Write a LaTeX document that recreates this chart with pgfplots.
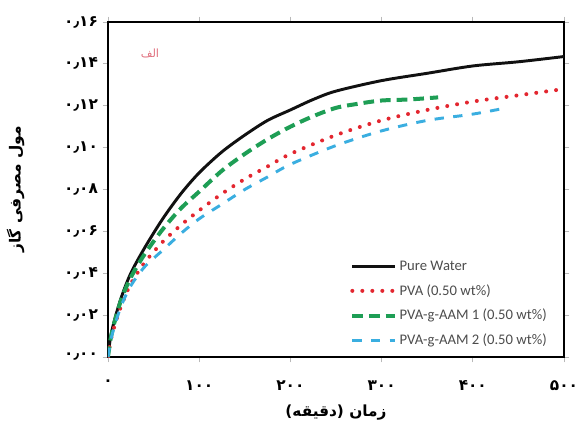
\documentclass[border=0pt]{standalone}
\usepackage{pgfplots}
\pgfplotsset{compat=1.18}
\usepackage{fontspec}
\setmainfont{Liberation Sans}
\newfontfamily\fa[Script=Arabic]{DejaVu Sans}
\newfontfamily\legfont{Carlito}
\TeXXeTstate=1

\definecolor{cwater}{HTML}{111111}
\definecolor{cpva}{HTML}{E3262F}
\definecolor{caam1}{HTML}{1E9E55}
\definecolor{caam2}{HTML}{3AAEE0}
\definecolor{ctag}{HTML}{E0707E}

\begin{document}
\begin{tikzpicture}[x=1pt,y=1pt]
\path[use as bounding box] (-81,-51) rectangle (354.75,267.75);
\begin{axis}[
  scale only axis, width=342pt, height=251.25pt,
  at={(0,0)}, anchor=south west,
  xmin=0, xmax=500, ymin=0, ymax=0.16,
  axis line style={line width=1.8pt},
  tick align=outside,
  tick style={gray!55, line width=0.6pt},
  major tick length=4pt,
  xtick={0,100,200,300,400,500},
  ytick={0,0.02,0.04,0.06,0.08,0.10,0.12,0.14,0.16},
  xticklabels={۰,۱۰۰,۲۰۰,۳۰۰,۴۰۰,۵۰۰},
  yticklabels={۰٫۰۰,۰٫۰۲,۰٫۰۴,۰٫۰۶,۰٫۰۸,۰٫۱۰,۰٫۱۲,۰٫۱۴,۰٫۱۶},
  ticklabel style={font=\fa\bfseries\fontsize{11.5}{13}\selectfont},
  xticklabel shift=10pt,
  xlabel={\fa\bfseries\fontsize{11.5}{13}\selectfont\beginR زمان (دقیقه)\endR},
  ylabel={\fa\bfseries\fontsize{11.5}{13}\selectfont\beginR مول مصرفی گاز\endR},
  xlabel shift=4pt,
  ylabel shift=23pt,
  legend style={draw=none, fill=none, at={(0.525,0.303)}, anchor=north west,
    font=\legfont\fontsize{11}{12}\selectfont, text=black!70, row sep=5pt,
    inner sep=2pt},
  legend cell align=left,
  legend image code/.code={\draw[#1] (0pt,0pt) -- (32pt,0pt);},
]
% Pure water
\addplot[cwater, line width=2.2pt, smooth] coordinates {
 (0,0) (3,0.010) (8,0.019) (15,0.029) (25,0.040) (40,0.052) (60,0.066)
 (80,0.078) (100,0.088) (125,0.098) (150,0.106) (175,0.113) (200,0.118)
 (225,0.123) (250,0.127) (300,0.132) (350,0.1355) (400,0.139) (450,0.141)
 (500,0.1435)};
\addlegendentry{Pure Water}
% PVA
\addplot[cpva, line width=3pt, line cap=round, dash pattern=on 0pt off 7.5pt, smooth] coordinates {
 (0,0) (3,0.008) (8,0.016) (15,0.025) (25,0.035) (40,0.045) (60,0.055)
 (80,0.063) (100,0.070) (125,0.078) (150,0.085) (175,0.091) (200,0.097)
 (250,0.106) (300,0.113) (350,0.118) (400,0.122) (450,0.125) (500,0.128)};
\addlegendentry{PVA (0.50 wt\%)}
% PVA-g-AAM 1
\addplot[caam1, line width=3pt, dash pattern=on 8pt off 4.5pt, smooth] coordinates {
 (0,0) (3,0.009) (8,0.018) (15,0.028) (25,0.038) (40,0.049) (60,0.061)
 (80,0.071) (100,0.079) (125,0.089) (150,0.097) (175,0.104) (200,0.110)
 (225,0.115) (250,0.119) (275,0.121) (300,0.1225) (330,0.123) (362,0.124)};
\addlegendentry{PVA-g-AAM 1 (0.50 wt\%)}
% PVA-g-AAM 2
\addplot[caam2, line width=2.2pt, dash pattern=on 7pt off 7pt, smooth] coordinates {
 (0,0) (3,0.008) (8,0.016) (15,0.025) (25,0.034) (40,0.043) (60,0.051)
 (80,0.059) (100,0.066) (125,0.073) (150,0.080) (175,0.086) (200,0.092)
 (250,0.101) (300,0.108) (350,0.113) (400,0.116) (437,0.119)};
\addlegendentry{PVA-g-AAM 2 (0.50 wt\%)}
\node[text=ctag, font=\fa\fontsize{8.5}{10}\selectfont] at (axis cs:46,0.145) {\beginR الف\endR};
\end{axis}
\end{tikzpicture}
\end{document}
